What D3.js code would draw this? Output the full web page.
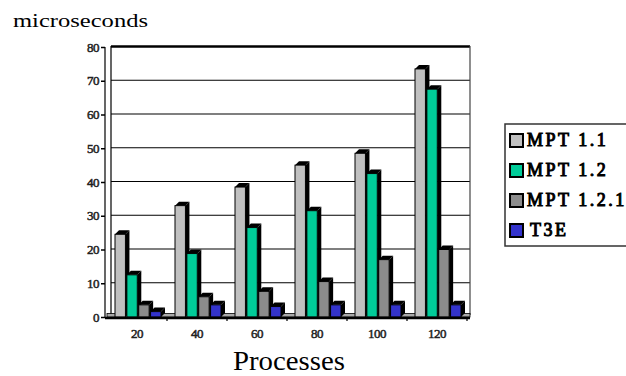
<!DOCTYPE html>
<html>
<head>
<meta charset="utf-8">
<script src="https://cdn.jsdelivr.net/npm/d3@7"></script>
<style>
  html, body { margin: 0; padding: 0; background: #fff; }
  svg { display: block; }
  svg text { font-family: "Liberation Serif", "DejaVu Serif", serif; }
</style>
</head>
<body>
<svg id="chart" width="626" height="376"></svg>
<script>
// Processes on the x axis, one group of bars per process count
const categories = ["20", "40", "60", "80", "100", "120"];
const seriesNames = ["MPT 1.1", "MPT 1.2", "MPT 1.2.1", "T3E"];
const seriesColors = ["#c0c0c0", "#00cc99", "#8c8c8c", "#3333cc"];
// microseconds per series, in category order
const mpt11  = [24.5, 33, 38.5, 45, 48.5, 73.5];
const mpt12  = [12.5, 18.8, 26.5, 31.5, 42.5, 67.5];
const mpt121 = [3.6, 6, 7.6, 10.5, 17, 20];
const t3e    = [1.6, 3.6, 3.1, 3.6, 3.6, 3.6];
const yTicks = [0, 10, 20, 30, 40, 50, 60, 70, 80];

const seriesValues = [mpt11, mpt12, mpt121, t3e];

const serif = "'Liberation Serif', 'DejaVu Serif', serif";
const svg = d3.select("#chart");
const depth = 4;           // 3D offset of the back plane
const plotLeft = 107, plotRight = 467, plotTop = 47, plotBottom = 317;

const x0 = d3.scaleBand().domain(categories).range([plotLeft, plotRight]);
const x1 = d3.scaleBand().domain(seriesNames).range([8, 54]).paddingInner(0.12);
const y = d3.scaleLinear().domain([0, 80]).range([plotBottom, plotTop]);

// title on the value axis
svg.append("text").attr("x", 13).attr("y", 27)
  .attr("font-family", serif)
  .attr("font-size", 19).attr("textLength", 135).attr("lengthAdjust", "spacingAndGlyphs")
  .text("microseconds");

// back wall grid lines
const grid = svg.append("g");
grid.selectAll("line").data(yTicks.slice(1)).join("line")
  .attr("x1", plotLeft + depth).attr("x2", plotRight + 3)
  .attr("y1", d => y(d) - 0.5).attr("y2", d => y(d) - 0.5)
  .attr("stroke", "#000")
  .attr("stroke-width", d => d === 80 ? 2.5 : 1.2);
// right edge of the back wall
svg.append("line").attr("x1", plotRight + 3).attr("x2", plotRight + 3)
  .attr("y1", plotTop - 1).attr("y2", plotBottom - 2)
  .attr("stroke", "#444").attr("stroke-width", 1.2);
// left wall
svg.append("line").attr("x1", plotLeft - 2).attr("x2", plotLeft - 2)
  .attr("y1", plotTop).attr("y2", plotBottom + 1).attr("stroke", "#000").attr("stroke-width", 1.2);
svg.append("line").attr("x1", plotLeft + depth).attr("x2", plotLeft + depth)
  .attr("y1", plotTop - 1).attr("y2", plotBottom - 3).attr("stroke", "#000").attr("stroke-width", 1.2);

// floor strip
svg.append("rect").attr("x", plotLeft).attr("y", plotBottom - 3.5)
  .attr("width", plotRight + 3 - plotLeft).attr("height", 3.5)
  .attr("fill", "#a8a8a8").attr("stroke", "#000").attr("stroke-width", 0.8);

// value axis
const yAxis = d3.axisLeft(y).tickValues(yTicks).tickSize(4).tickPadding(2);
const gy = svg.append("g").attr("transform", `translate(${plotLeft - 2},0)`).call(yAxis);
gy.select(".domain").remove();
gy.selectAll(".tick line").attr("stroke", "#000").attr("stroke-width", 1.5);
gy.selectAll(".tick text")
  .attr("font-family", serif).attr("font-size", 13)
  .attr("fill", "#222").attr("stroke", "#222").attr("stroke-width", 0.5)
  .attr("letter-spacing", "-0.5");

// bars
const groups = svg.append("g").selectAll("g").data(categories).join("g")
  .attr("transform", d => `translate(${x0(d)},0)`);

groups.each(function(cat, ci) {
  const g = d3.select(this);
  seriesNames.forEach((s, si) => {
    const v = seriesValues[si][ci];
    const bx = x1(s), bw = x1.bandwidth(), by = y(v), b0 = y(0);
    // side face
    g.append("path")
      .attr("d", `M${bx + bw},${by} L${bx + bw + depth},${by - depth} L${bx + bw + depth},${b0 - depth} L${bx + bw},${b0} Z`)
      .attr("fill", "#000");
    // top face
    g.append("path")
      .attr("d", `M${bx},${by} L${bx + depth},${by - depth} L${bx + bw + depth},${by - depth} L${bx + bw},${by} Z`)
      .attr("fill", "#000");
    // front face
    g.append("rect").attr("x", bx).attr("y", by).attr("width", bw).attr("height", b0 - by)
      .attr("fill", seriesColors[si]).attr("stroke", "#000").attr("stroke-width", 1);
  });
});

// category axis
const xAxis = d3.axisBottom(x0).tickSize(0).tickPadding(11);
const gx = svg.append("g").attr("transform", `translate(0,${plotBottom + 1})`).call(xAxis);
gx.select(".domain").remove();
gx.selectAll(".tick text").attr("font-family", serif)
  .attr("font-size", 13).attr("fill", "#222").attr("stroke", "#222").attr("stroke-width", 0.5)
  .attr("letter-spacing", "-0.5");
svg.append("line").attr("x1", plotLeft - 2).attr("x2", plotRight + 3)
  .attr("y1", plotBottom + 1).attr("y2", plotBottom + 1).attr("stroke", "#000").attr("stroke-width", 2.5);
// boundary ticks between categories
svg.append("g").selectAll("line").data(categories).join("line")
  .attr("x1", (d, i) => plotLeft + (i + 1) * x0.step())
  .attr("x2", (d, i) => plotLeft + (i + 1) * x0.step())
  .attr("y1", plotBottom + 1).attr("y2", plotBottom + 4)
  .attr("stroke", "#000").attr("stroke-width", 1.2);

svg.append("text").attr("x", 233).attr("y", 370)
  .attr("font-family", serif)
  .attr("font-size", 27).attr("textLength", 112).attr("lengthAdjust", "spacingAndGlyphs")
  .text("Processes");

// legend
const legend = svg.append("g");
legend.append("rect").attr("x", 505).attr("y", 124).attr("width", 140).attr("height", 122)
  .attr("fill", "#fff").attr("stroke", "#333").attr("stroke-width", 1.5);
const items = legend.selectAll("g.item").data(seriesNames).join("g")
  .attr("class", "item")
  .attr("transform", (d, i) => `translate(509,${140 + i * 30})`);
items.append("rect").attr("x", 1).attr("y", -6).attr("width", 13).attr("height", 13)
  .attr("fill", (d, i) => seriesColors[i]).attr("stroke", "#000").attr("stroke-width", 2);
items.append("text").attr("x", (d, i) => i === 3 ? 21 : 18).attr("y", 6)
  .attr("font-family", serif)
  .attr("font-size", 18).attr("fill", "#000").attr("stroke", "#000").attr("stroke-width", 1)
  .attr("letter-spacing", "2.5")
  .text(d => d);
</script>
</body>
</html>
